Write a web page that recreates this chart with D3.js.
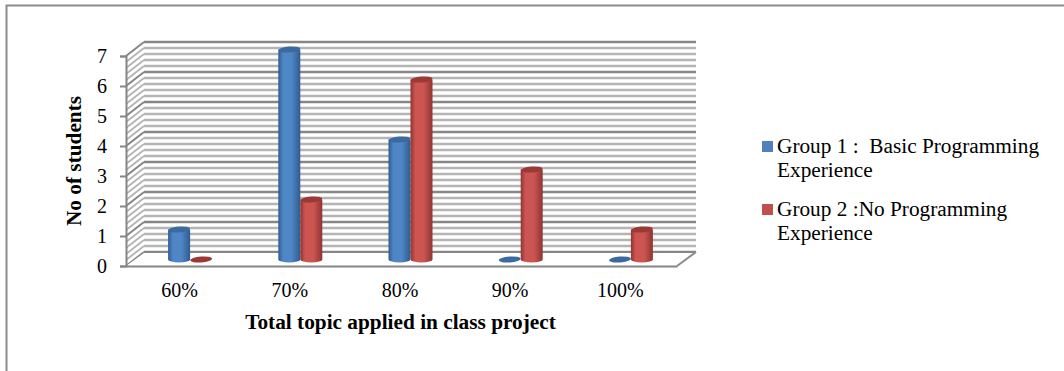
<!DOCTYPE html>
<html>
<head>
<meta charset="utf-8">
<script src="https://cdn.jsdelivr.net/npm/d3@7/dist/d3.min.js"></script>
<style>
  html, body { margin: 0; padding: 0; background: #fff; }
  svg { display: block; }
  text { font-family: "Liberation Serif", "Times New Roman", serif; fill: #000; }
</style>
</head>
<body>
<svg id="chart" width="1064" height="371"></svg>
<script>
const categories = ["60%", "70%", "80%", "90%", "100%"];
const group1Values = [1, 7, 4, 0, 0];
const group2Values = [0, 2, 6, 3, 1];
const seriesNames = ["Group 1 :  Basic Programming", "Group 2 :No Programming"];
const seriesSecondLines = ["Experience", "Experience"];
const valueTicks = [0, 1, 2, 3, 4, 5, 6, 7];
const minorStep = 0.2;

const palette = [
  { edge: "#2f5c8f", mid: "#4f86c6", top: "#3a6a9f", key: "#4f81bd" },
  { edge: "#8f3432", mid: "#cc5552", top: "#9c3836", key: "#c0504d" }
];

const svg = d3.select("#chart");

// Outer frame: the top rule runs off the page and the left rule runs to the bottom
svg.append("path")
  .attr("d", "M6.5,371V5.5H1064")
  .attr("fill", "none").attr("stroke", "#8c8c8c").attr("stroke-width", 2);

// Oblique projection offsets of the back wall
const depthX = 18, depthY = -14;
const x = d3.scaleBand().domain(categories).range([126, 677]);
const y = d3.scaleLinear().domain([0, 7]).range([266, 56]);

const minorValues = d3.range(0, 7 + minorStep / 2, minorStep);
const isMajor = v => Math.abs(v - Math.round(v)) < 1e-6;

// Back wall and side wall rules
const wall = svg.append("g");
minorValues.forEach(v => {
  const yy = y(v);
  const major = isMajor(v);
  wall.append("line")
    .attr("x1", x.range()[0] + depthX).attr("x2", x.range()[1] + depthX + 1)
    .attr("y1", yy + depthY).attr("y2", yy + depthY)
    .attr("stroke", major ? "#868686" : "#b4b4b4").attr("stroke-width", 2.4);
  wall.append("line")
    .attr("x1", x.range()[0]).attr("x2", x.range()[0] + depthX)
    .attr("y1", yy).attr("y2", yy + depthY)
    .attr("stroke", major ? "#868686" : "#b4b4b4").attr("stroke-width", major ? 2 : 1.8);
});

// Floor: white plane over the lowest part of the wall, with its right edge
svg.append("path")
  .attr("d", `M${x.range()[0]},${y(0)}L${x.range()[0] + depthX},${y(0) + depthY + 1}` +
             `H${x.range()[1] + depthX + 1}L${x.range()[1]},${y(0)}Z`)
  .attr("fill", "#fff");
svg.append("line")
  .attr("x1", x.range()[1]).attr("y1", y(0))
  .attr("x2", x.range()[1] + depthX + 1).attr("y2", y(0) + depthY)
  .attr("stroke", "#8a8a8a").attr("stroke-width", 2);

// Horizontal shading of the cylinders
const defs = svg.append("defs");
palette.forEach((p, i) => {
  const g = defs.append("linearGradient").attr("id", "cyl" + i)
    .attr("x1", 0).attr("x2", 1).attr("y1", 0).attr("y2", 0);
  g.append("stop").attr("offset", 0).attr("stop-color", p.edge);
  g.append("stop").attr("offset", 0.22).attr("stop-color", p.mid);
  g.append("stop").attr("offset", 0.6).attr("stop-color", p.mid);
  g.append("stop").attr("offset", 1).attr("stop-color", p.edge);
});

// Cylinders stand midway between the front edge and the back wall
const barWidth = 22;
const rx = barWidth / 2, ry = 3;
const baseShiftX = 9, baseShiftY = -6.5;

[group1Values, group2Values].forEach((values, s) => {
  const group = svg.append("g");
  values.forEach((v, i) => {
    const cx = x(categories[i]) + x.bandwidth() / 2 + baseShiftX + (s === 0 ? -rx : rx);
    const yBase = y(0) + baseShiftY;
    const yTop = y(v) + baseShiftY;
    if (v > 0) {
      group.append("path")
        .attr("d", `M${cx - rx},${yTop}V${yBase}A${rx},${ry} 0 0 0 ${cx + rx},${yBase}V${yTop}Z`)
        .attr("fill", `url(#cyl${s})`);
    }
    group.append("ellipse")
      .attr("cx", cx).attr("cy", yTop).attr("rx", rx).attr("ry", ry)
      .attr("transform", `rotate(-4 ${cx} ${yTop})`)
      .attr("fill", palette[s].top);
  });
});

// Axes
const axisLeft = d3.axisLeft(y).tickValues(valueTicks).tickFormat(d3.format("d")).tickSize(6).tickPadding(13);
const gy = svg.append("g").attr("transform", `translate(${x.range()[0]},0)`).call(axisLeft);
gy.selectAll("path, line").attr("stroke", "#868686").attr("stroke-width", 2);
gy.selectAll("text").attr("font-size", 20).style("font-family", "Liberation Serif");

const axisBottom = d3.axisBottom(x).tickSize(0).tickPadding(17);
const gx = svg.append("g").attr("transform", `translate(0,${y(0)})`).call(axisBottom);
gx.select("path").attr("stroke", "#868686").attr("stroke-width", 2);
gx.selectAll("text").attr("font-size", 20).attr("dx", -1.5).style("font-family", "Liberation Serif");

// Axis titles
svg.append("text").attr("x", 400.5).attr("y", 329)
  .attr("text-anchor", "middle").attr("font-size", 21.3).attr("font-weight", "bold")
  .text("Total topic applied in class project");
svg.append("text").attr("transform", "translate(81,161) rotate(-90)")
  .attr("text-anchor", "middle").attr("font-size", 21.3).attr("font-weight", "bold")
  .text("No of students");

// Legend
const legendRows = [153, 216];
seriesNames.forEach((name, i) => {
  const g = svg.append("g");
  g.append("rect").attr("x", 762).attr("y", legendRows[i] - 12).attr("width", 11).attr("height", 11)
    .attr("fill", palette[i].key);
  g.append("text").attr("x", 777).attr("y", legendRows[i]).attr("font-size", 21.3)
    .attr("xml:space", "preserve").style("white-space", "pre").text(name);
  g.append("text").attr("x", 777).attr("y", legendRows[i] + 24).attr("font-size", 21.3)
    .text(seriesSecondLines[i]);
});
</script>
</body>
</html>
